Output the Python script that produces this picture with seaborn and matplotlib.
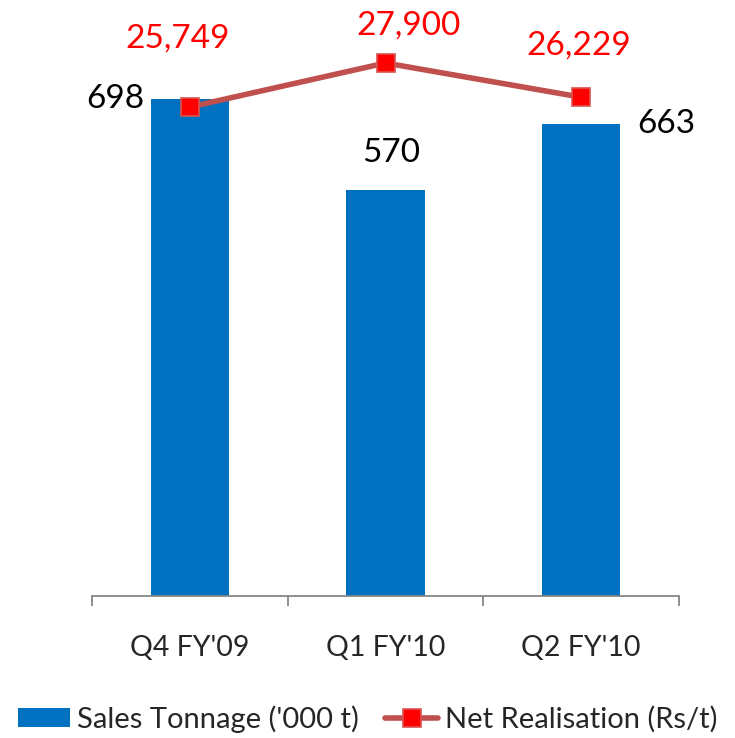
import matplotlib
import matplotlib.pyplot as plt
import pandas as pd
import seaborn as sns

matplotlib.use("Agg")

quarters = ["Q4 FY'09", "Q1 FY'10", "Q2 FY'10"]
tonnage = [698, 570, 663]
realisation = [25749, 27900, 26229]

BLUE = "#0070C0"
LINE = "#C0504D"
GREY = "#868686"

sns.set_theme(style="white")
plt.rcParams["font.family"] = ["Lato", "DejaVu Sans"]

df = pd.DataFrame({"quarter": quarters, "tonnage": tonnage, "nr": realisation})

fig = plt.figure(figsize=(7.35, 7.38), dpi=100)
ax = fig.add_axes([92 / 735, 142 / 738, 587 / 735, 570 / 738])

sns.barplot(data=df, x="quarter", y="tonnage", color=BLUE, width=0.4,
            saturation=1, linewidth=0, label="Sales Tonnage ('000 t)", ax=ax)
ax.set_ylim(0, 800)

ax2 = ax.twinx()
sns.pointplot(data=df, x="quarter", y="nr", color=LINE, markers="s",
              errorbar=None, label="Net Realisation (Rs/t)", ax=ax2,
              linewidth=4, markersize=13, markerfacecolor="#FF0000",
              markeredgecolor="#D9534F", markeredgewidth=1.2)
ax2.set_ylim(1844, 29709)

# bar value labels, placed like the original (left / above / right)
bar_pos = [(-0.2, (-4.5, -6.5), "right"), (0, (4.3, 20), "center"), (0.2, (12, -6.5), "left")]
for i, (v, (dx, off, ha)) in enumerate(zip(tonnage, bar_pos)):
    ax.annotate(f"{v}", (i + dx, v), xytext=off, textcoords="offset points",
                ha=ha, va="baseline", fontsize=24, color="black")

nr_offsets = [(-8.6, 42.5), (16.2, 20.5), (-1.4, 31)]
for i, (v, off) in enumerate(zip(realisation, nr_offsets)):
    ax2.annotate(f"{v:,}", (i, v), xytext=off, textcoords="offset points",
                 ha="center", va="baseline", fontsize=24, color="#FF0000")

for a in (ax, ax2):
    for s in ("top", "left", "right"):
        a.spines[s].set_visible(False)
    a.set_ylabel("")
    a.set_yticks([])
ax2.spines["bottom"].set_visible(False)
ax.spines["bottom"].set_color(GREY)
ax.spines["bottom"].set_linewidth(1.3)

ax.set_xlim(-0.5, len(quarters) - 0.5)
ax.set_xlabel("")
ax.set_xticks([k - 0.5 for k in range(len(quarters) + 1)], labels=[""] * (len(quarters) + 1))
ax.tick_params(axis="x", which="major", bottom=True, length=7, width=1.3,
               color=GREY, direction="out")
ax.set_xticks(range(len(quarters)), labels=quarters, minor=True)
ax.tick_params(axis="x", which="minor", bottom=True, length=0, pad=28, labelsize=20.5)
ax2.tick_params(axis="x", length=0, labelbottom=False)

h1, l1 = ax.get_legend_handles_labels()
h2, l2 = ax2.get_legend_handles_labels()
for a in (ax, ax2):
    if a.get_legend():
        a.get_legend().remove()
fig.legend(h1 + h2, l1 + l2, loc="center", bbox_to_anchor=(0.5, 19 / 738),
           ncol=2, frameon=False, fontsize=21, handlelength=1.8, handleheight=0.6,
           columnspacing=0.9, handletextpad=0.24, borderpad=0)

fig.savefig("out.png", dpi=100)
